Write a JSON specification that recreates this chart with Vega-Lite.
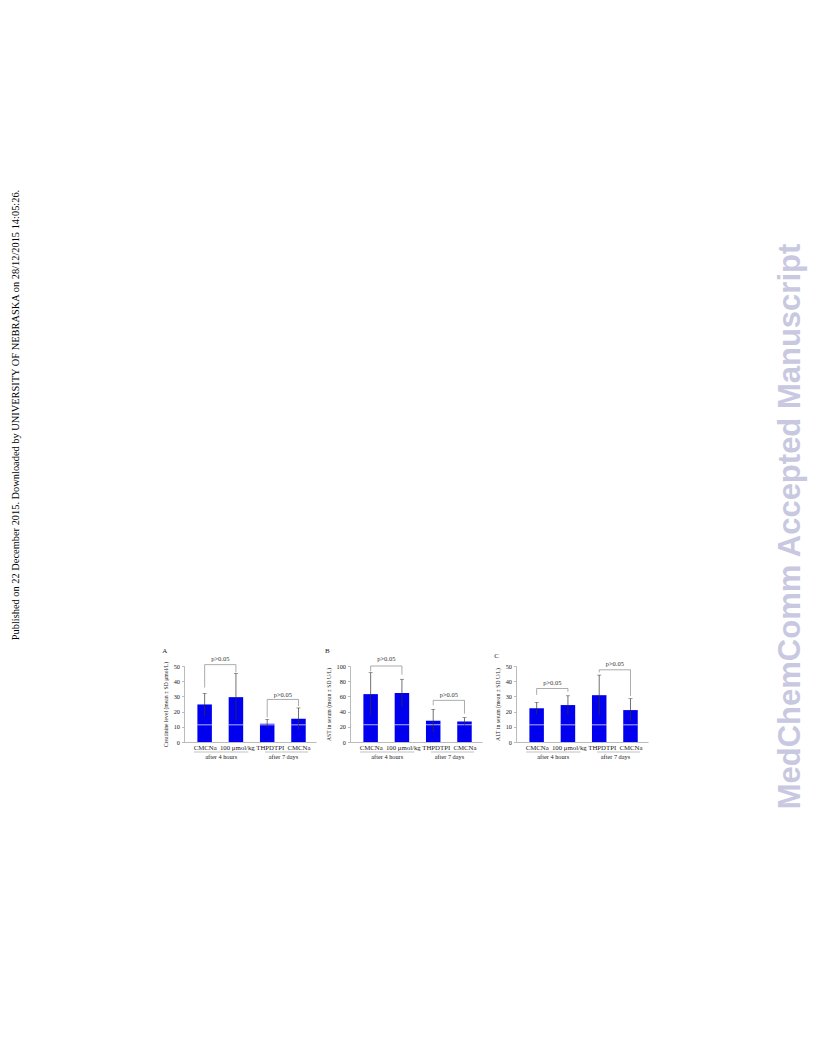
{
  "$schema": "https://vega.github.io/schema/vega-lite/v6.json",
  "padding": 0,
  "background": "white",
  "spacing": 0,
  "bounds": "full",
  "config": {
    "view": {"stroke": null},
    "font": "Liberation Serif",
    "axisX": {"domainColor": "#aaaaaa", "domainWidth": 0.8, "ticks": false, "labelFontSize": 6.8, "labelPadding": 2, "labelColor": "#222222", "labelFont": "Liberation Serif", "grid": false, "labelAngle": 0, "labelOverlap": false, "labelFlush": false, "labelBound": false},
    "axisY": {"domainColor": "#aaaaaa", "domainWidth": 0.8, "tickColor": "#aaaaaa", "tickSize": 2.5, "tickWidth": 0.8, "tickCount": 5, "labelFontSize": 6.3, "labelPadding": 2, "labelColor": "#222222", "labelFont": "Liberation Serif", "titleFont": "Liberation Serif", "titleFontSize": 5.7, "titleFontWeight": "normal", "titleColor": "#222222", "titlePadding": 5, "grid": false, "labelOverlap": false, "labelFlush": false},
    "title": {"font": "Liberation Serif", "fontSize": 7, "fontWeight": "normal", "color": "#222222", "anchor": "start", "frame": "bounds", "offset": 2}
  },
  "datasets": {
    "bars": [
      {"panel": "A", "x": 1, "mean": 24.7, "lo": 16.9, "hi": 32},
      {"panel": "A", "x": 2, "mean": 29.5, "lo": 14, "hi": 45},
      {"panel": "A", "x": 3, "mean": 12, "lo": 9.3, "hi": 14.7},
      {"panel": "A", "x": 4, "mean": 15.3, "lo": 8.2, "hi": 22.4},
      {"panel": "B", "x": 1, "mean": 63, "lo": 35, "hi": 91.2},
      {"panel": "B", "x": 2, "mean": 64.5, "lo": 46.5, "hi": 82.5},
      {"panel": "B", "x": 3, "mean": 28, "lo": 13, "hi": 43},
      {"panel": "B", "x": 4, "mean": 27, "lo": 22, "hi": 32},
      {"panel": "C", "x": 1, "mean": 22.2, "lo": 18.3, "hi": 26.1},
      {"panel": "C", "x": 2, "mean": 24.3, "lo": 18.2, "hi": 30.4},
      {"panel": "C", "x": 3, "mean": 30.8, "lo": 17.5, "hi": 44},
      {"panel": "C", "x": 4, "mean": 21, "lo": 13.5, "hi": 28.5}
    ],
    "segs": [
      {"panel": "A", "x": 1, "x2": 2, "y": 50.9, "y2": 50.9},
      {"panel": "A", "x": 1, "x2": 1, "y": 50.9, "y2": 35.8},
      {"panel": "A", "x": 2, "x2": 2, "y": 50.9, "y2": 45.8},
      {"panel": "A", "x": 3, "x2": 4, "y": 28, "y2": 28},
      {"panel": "A", "x": 3, "x2": 3, "y": 28, "y2": 16.2},
      {"panel": "A", "x": 4, "x2": 4, "y": 28, "y2": 23.6},
      {"panel": "B", "x": 1, "x2": 2, "y": 100, "y2": 100},
      {"panel": "B", "x": 1, "x2": 1, "y": 100, "y2": 93},
      {"panel": "B", "x": 2, "x2": 2, "y": 100, "y2": 88.6},
      {"panel": "B", "x": 3, "x2": 4, "y": 54.8, "y2": 54.8},
      {"panel": "B", "x": 3, "x2": 3, "y": 54.8, "y2": 48.2},
      {"panel": "B", "x": 4, "x2": 4, "y": 54.8, "y2": 37.3},
      {"panel": "C", "x": 1, "x2": 2, "y": 35.2, "y2": 35.2},
      {"panel": "C", "x": 1, "x2": 1, "y": 35.2, "y2": 31},
      {"panel": "C", "x": 2, "x2": 2, "y": 35.2, "y2": 33},
      {"panel": "C", "x": 3, "x2": 4, "y": 47.5, "y2": 47.5},
      {"panel": "C", "x": 3, "x2": 3, "y": 47.5, "y2": 45.8},
      {"panel": "C", "x": 4, "x2": 4, "y": 47.5, "y2": 30.2}
    ],
    "ptext": [
      {"panel": "A", "x": 1.5, "y": 54.7, "text": "p>0.05"},
      {"panel": "A", "x": 3.5, "y": 30.9, "text": "p>0.05"},
      {"panel": "B", "x": 1.5, "y": 109, "text": "p>0.05"},
      {"panel": "B", "x": 3.5, "y": 61.7, "text": "p>0.05"},
      {"panel": "C", "x": 1.5, "y": 38.5, "text": "p>0.05"},
      {"panel": "C", "x": 3.5, "y": 51.3, "text": "p>0.05"}
    ],
    "groups": [
      {"x": 1.53, "text": "after 4 hours"},
      {"x": 3.52, "text": "after 7 days"}
    ],
    "glines": [
      {"x": 0.66, "x2": 2.4},
      {"x": 2.93, "x2": 4.31}
    ]
  },
  "hconcat": [
    {
      "width": 31, "height": 830,
      "data": {"values": [{"t": "Published on 22 December 2015. Downloaded by UNIVERSITY OF NEBRASKA on 28/12/2015 14:05:26."}]},
      "mark": {"type": "text", "angle": 270, "font": "Liberation Serif", "fontSize": 10.4, "color": "#000000"},
      "encoding": {"text": {"field": "t"}}
    },
    {
      "width": 131, "height": 1,
      "data": {"values": []},
      "mark": "point",
      "encoding": {}
    },
    {
      "spacing": 0,
      "bounds": "flush",
      "vconcat": [
        {
          "width": 1, "height": 666,
          "data": {"values": []},
          "mark": "point",
          "encoding": {}
        },
        {
          "spacing": 34,
          "bounds": "flush",
          "hconcat": [
            {
              "width": 132, "height": 76,
              "title": {"text": "A"},
              "layer": [
                {"data": {"name": "bars"}, "transform": [{"filter": "datum.panel == 'A'"}],
                 "mark": {"type": "bar", "orient": "vertical", "size": 14.5, "color": "#0000ee"},
                 "encoding": {
                   "x": {"field": "x", "type": "quantitative", "scale": {"domain": [0.5, 4.4], "zero": false, "nice": false}, "axis": {"values": [1, 2.5, 4], "title": null, "labelExpr": "datum.value == 2.5 ? '100 μmol/kg THPDTPI' : 'CMCNa'"}},
                   "y": {"field": "mean", "type": "quantitative", "scale": {"domain": [0, 50], "nice": false}, "axis": {"title": "Creatinine level (mean ± SD μmol/L)"}}
                 }},
                {"data": {"name": "bars"}, "transform": [{"filter": "datum.panel == 'A'"}],
                 "mark": {"type": "tick", "orient": "horizontal", "size": 14.5, "thickness": 1, "color": "white"},
                 "encoding": {"x": {"field": "x", "type": "quantitative"}, "y": {"datum": 11.3}}},
                {"data": {"name": "bars"}, "transform": [{"filter": "datum.panel == 'A'"}],
                 "mark": {"type": "rule", "color": "#333333", "strokeWidth": 0.7},
                 "encoding": {"x": {"field": "x", "type": "quantitative"}, "y": {"field": "lo", "type": "quantitative"}, "y2": {"field": "hi"}}},
                {"data": {"name": "bars"}, "transform": [{"filter": "datum.panel == 'A'"}],
                 "mark": {"type": "tick", "orient": "horizontal", "size": 4, "thickness": 0.7, "color": "#333333"},
                 "encoding": {"x": {"field": "x", "type": "quantitative"}, "y": {"field": "hi", "type": "quantitative"}}},
                {"data": {"name": "segs"}, "transform": [{"filter": "datum.panel == 'A'"}],
                 "mark": {"type": "rule", "color": "#888888", "strokeWidth": 0.7},
                 "encoding": {"x": {"field": "x", "type": "quantitative"}, "x2": {"field": "x2"}, "y": {"field": "y", "type": "quantitative"}, "y2": {"field": "y2"}}},
                {"data": {"name": "ptext"}, "transform": [{"filter": "datum.panel == 'A'"}],
                 "mark": {"type": "text", "fontSize": 6.5, "color": "#333333"},
                 "encoding": {"x": {"field": "x", "type": "quantitative"}, "y": {"field": "y", "type": "quantitative"}, "text": {"field": "text"}}},
                {"data": {"name": "glines"},
                 "mark": {"type": "rule", "color": "#999999", "strokeWidth": 0.6, "yOffset": 10},
                 "encoding": {"x": {"field": "x", "type": "quantitative"}, "x2": {"field": "x2"}, "y": {"datum": 0}}},
                {"data": {"name": "groups"},
                 "mark": {"type": "text", "fontSize": 6.3, "color": "#222222", "dy": 15},
                 "encoding": {"x": {"field": "x", "type": "quantitative"}, "y": {"datum": 0}, "text": {"field": "text"}}}
              ]
            },
            {
              "width": 132, "height": 76,
              "title": {"text": "B"},
              "layer": [
                {"data": {"name": "bars"}, "transform": [{"filter": "datum.panel == 'B'"}],
                 "mark": {"type": "bar", "orient": "vertical", "size": 14.5, "color": "#0000ee"},
                 "encoding": {
                   "x": {"field": "x", "type": "quantitative", "scale": {"domain": [0.5, 4.4], "zero": false, "nice": false}, "axis": {"values": [1, 2.5, 4], "title": null, "labelExpr": "datum.value == 2.5 ? '100 μmol/kg THPDTPI' : 'CMCNa'"}},
                   "y": {"field": "mean", "type": "quantitative", "scale": {"domain": [0, 100], "nice": false}, "axis": {"title": "AST in serum (mean ± SD U/L)"}}
                 }},
                {"data": {"name": "bars"}, "transform": [{"filter": "datum.panel == 'B'"}],
                 "mark": {"type": "tick", "orient": "horizontal", "size": 14.5, "thickness": 1, "color": "white"},
                 "encoding": {"x": {"field": "x", "type": "quantitative"}, "y": {"datum": 22.7}}},
                {"data": {"name": "bars"}, "transform": [{"filter": "datum.panel == 'B'"}],
                 "mark": {"type": "rule", "color": "#333333", "strokeWidth": 0.7},
                 "encoding": {"x": {"field": "x", "type": "quantitative"}, "y": {"field": "lo", "type": "quantitative"}, "y2": {"field": "hi"}}},
                {"data": {"name": "bars"}, "transform": [{"filter": "datum.panel == 'B'"}],
                 "mark": {"type": "tick", "orient": "horizontal", "size": 4, "thickness": 0.7, "color": "#333333"},
                 "encoding": {"x": {"field": "x", "type": "quantitative"}, "y": {"field": "hi", "type": "quantitative"}}},
                {"data": {"name": "segs"}, "transform": [{"filter": "datum.panel == 'B'"}],
                 "mark": {"type": "rule", "color": "#888888", "strokeWidth": 0.7},
                 "encoding": {"x": {"field": "x", "type": "quantitative"}, "x2": {"field": "x2"}, "y": {"field": "y", "type": "quantitative"}, "y2": {"field": "y2"}}},
                {"data": {"name": "ptext"}, "transform": [{"filter": "datum.panel == 'B'"}],
                 "mark": {"type": "text", "fontSize": 6.5, "color": "#333333"},
                 "encoding": {"x": {"field": "x", "type": "quantitative"}, "y": {"field": "y", "type": "quantitative"}, "text": {"field": "text"}}},
                {"data": {"name": "glines"},
                 "mark": {"type": "rule", "color": "#999999", "strokeWidth": 0.6, "yOffset": 10},
                 "encoding": {"x": {"field": "x", "type": "quantitative"}, "x2": {"field": "x2"}, "y": {"datum": 0}}},
                {"data": {"name": "groups"},
                 "mark": {"type": "text", "fontSize": 6.3, "color": "#222222", "dy": 15},
                 "encoding": {"x": {"field": "x", "type": "quantitative"}, "y": {"datum": 0}, "text": {"field": "text"}}}
              ]
            },
            {
              "width": 132, "height": 76,
              "title": {"text": "C"},
              "layer": [
                {"data": {"name": "bars"}, "transform": [{"filter": "datum.panel == 'C'"}],
                 "mark": {"type": "bar", "orient": "vertical", "size": 14.5, "color": "#0000ee"},
                 "encoding": {
                   "x": {"field": "x", "type": "quantitative", "scale": {"domain": [0.5, 4.4], "zero": false, "nice": false}, "axis": {"values": [1, 2.5, 4], "title": null, "labelExpr": "datum.value == 2.5 ? '100 μmol/kg THPDTPI' : 'CMCNa'"}},
                   "y": {"field": "mean", "type": "quantitative", "scale": {"domain": [0, 50], "nice": false}, "axis": {"title": "ALT in serum (mean ± SD U/L)"}}
                 }},
                {"data": {"name": "bars"}, "transform": [{"filter": "datum.panel == 'C'"}],
                 "mark": {"type": "tick", "orient": "horizontal", "size": 14.5, "thickness": 1, "color": "white"},
                 "encoding": {"x": {"field": "x", "type": "quantitative"}, "y": {"datum": 11.3}}},
                {"data": {"name": "bars"}, "transform": [{"filter": "datum.panel == 'C'"}],
                 "mark": {"type": "rule", "color": "#333333", "strokeWidth": 0.7},
                 "encoding": {"x": {"field": "x", "type": "quantitative"}, "y": {"field": "lo", "type": "quantitative"}, "y2": {"field": "hi"}}},
                {"data": {"name": "bars"}, "transform": [{"filter": "datum.panel == 'C'"}],
                 "mark": {"type": "tick", "orient": "horizontal", "size": 4, "thickness": 0.7, "color": "#333333"},
                 "encoding": {"x": {"field": "x", "type": "quantitative"}, "y": {"field": "hi", "type": "quantitative"}}},
                {"data": {"name": "segs"}, "transform": [{"filter": "datum.panel == 'C'"}],
                 "mark": {"type": "rule", "color": "#888888", "strokeWidth": 0.7},
                 "encoding": {"x": {"field": "x", "type": "quantitative"}, "x2": {"field": "x2"}, "y": {"field": "y", "type": "quantitative"}, "y2": {"field": "y2"}}},
                {"data": {"name": "ptext"}, "transform": [{"filter": "datum.panel == 'C'"}],
                 "mark": {"type": "text", "fontSize": 6.5, "color": "#333333"},
                 "encoding": {"x": {"field": "x", "type": "quantitative"}, "y": {"field": "y", "type": "quantitative"}, "text": {"field": "text"}}},
                {"data": {"name": "glines"},
                 "mark": {"type": "rule", "color": "#999999", "strokeWidth": 0.6, "yOffset": 10},
                 "encoding": {"x": {"field": "x", "type": "quantitative"}, "x2": {"field": "x2"}, "y": {"datum": 0}}},
                {"data": {"name": "groups"},
                 "mark": {"type": "text", "fontSize": 6.3, "color": "#222222", "dy": 15},
                 "encoding": {"x": {"field": "x", "type": "quantitative"}, "y": {"datum": 0}, "text": {"field": "text"}}}
              ]
            }
          ]
        }
      ]
    },
    {
      "width": 122, "height": 1,
      "data": {"values": []},
      "mark": "point",
      "encoding": {}
    },
    {
      "width": 41, "height": 1053,
      "data": {"values": [{"t": "MedChemComm Accepted Manuscript"}]},
      "mark": {"type": "text", "angle": 270, "font": "Liberation Sans", "fontWeight": "bold", "fontSize": 31, "color": "#c8c8e1"},
      "encoding": {"text": {"field": "t"}}
    }
  ]
}
